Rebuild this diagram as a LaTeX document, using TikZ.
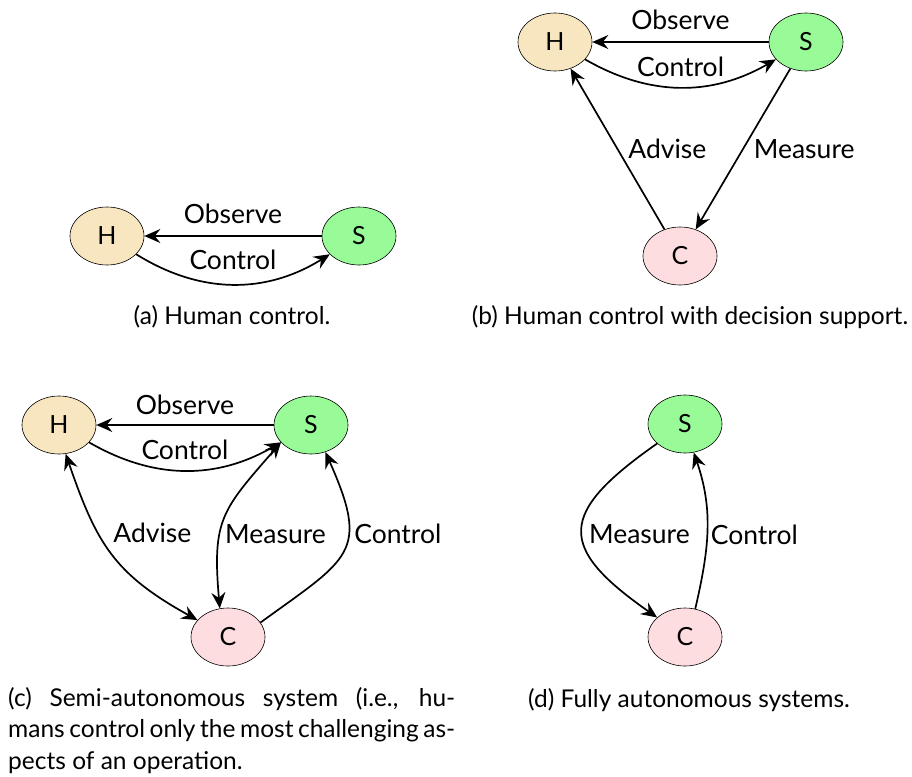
\documentclass[tikz,border=0pt]{standalone}
\usepackage{fontspec}
\setmainfont{Lato}
\usetikzlibrary{arrows.meta,shapes.geometric}
\definecolor{hfill}{HTML}{F8E6C0}
\definecolor{sfill}{HTML}{98FB98}
\definecolor{cfill}{HTML}{FDDDE0}
\begin{document}
\begin{tikzpicture}[x=1pt,y=-1pt,
  ent/.style={ellipse, draw, line width=0.6pt, minimum width=74pt, minimum height=58pt, inner sep=0pt, font=\fontsize{25}{28}\selectfont},
  hn/.style={ent, fill=hfill},
  sn/.style={ent, fill=sfill},
  cn/.style={ent, fill=cfill},
  arr/.style={-{Stealth[length=16pt,width=14pt,inset=5.5pt]}, line width=1.7pt},
  arrb/.style={{Stealth[length=16pt,width=14pt,inset=5.5pt]}-{Stealth[length=16pt,width=14pt,inset=5.5pt]}, line width=1.7pt},
  lbl/.style={font=\fontsize{26.5}{30}\selectfont, inner sep=3pt},
  captext/.style={font=\fontsize{24.5}{31.5}\selectfont}]
\useasboundingbox (0,0) rectangle (912,776);
% (a)
\node[hn] (Ha) at (107,236) {H};
\node[sn] (Sa) at (359,236) {S};
\draw[arr] (Sa) -- node[lbl,above=8pt] {Observe} (Ha);
\draw[arr] (Ha) to[bend right=32] node[lbl,above=11pt] {Control} (Sa);
\node[captext] (capa) at (232,317) {(a) Human control.};
% (b)
\node[hn] (Hb) at (555,42) {H};
\node[sn] (Sb) at (806,42) {S};
\node[cn] (Cb) at (680,256) {C};
\draw[arr] (Sb) -- node[lbl,above=8pt] {Observe} (Hb);
\draw[arr] (Hb) to[bend right=30] node[lbl,above=7pt] {Control} (Sb);
\draw[arr] (Cb) -- node[lbl,right=7pt] {Advise} (Hb);
\draw[arr] (Sb) -- node[lbl,right=7pt] {Measure} (Cb);
\node[captext] (capb) at (690,317) {(b) Human control with decision support.};
% (c)
\node[hn] (Hc) at (59,425) {H};
\node[sn] (Sc) at (311,425) {S};
\node[cn] (Cc) at (228,637) {C};
\draw[arr] (Sc) -- node[lbl,above=6pt] {Observe} (Hc);
\draw[arr] (Hc) to[bend right=30] node[lbl,above=7pt] {Control} (Sc);
\draw[arrb] (Hc.-77) to[out=-71,in=151,looseness=1.15] node[lbl,right=11pt,pos=0.37] {Advise} (Cc.151);
\draw[arrb] (Sc.210) to[out=229,in=95,looseness=1.3] node[lbl,right=1pt,pos=0.62] {Measure} (Cc.106);
\draw[arr] (Cc.24) to[out=36,in=-66,looseness=1.55] node[lbl,right=2.5pt,pos=0.62] {Control} (Sc.-62);
\node[captext, text width=447pt, align=justify, inner sep=0pt, anchor=north west] (capc) at (8,687)
  {(c) Semi-autonomous system (i.e., hu-\linebreak mans control only the most challenging as-\linebreak pects of an operation.};
% (d)
\node[sn] (Sd) at (685,424) {S};
\node[cn] (Cd) at (685,637) {C};
\draw[arr] (Sd) to[out=215,in=145,looseness=1.8] node[lbl,right=3pt,pos=0.52] {Measure} (Cd);
\draw[arr] (Cd.70) to[out=77,in=-71] node[lbl,right=0pt,pos=0.47] {Control} (Sd.-73);
\node[captext] (capd) at (689,700) {(d) Fully autonomous systems.};
\end{tikzpicture}
\end{document}
